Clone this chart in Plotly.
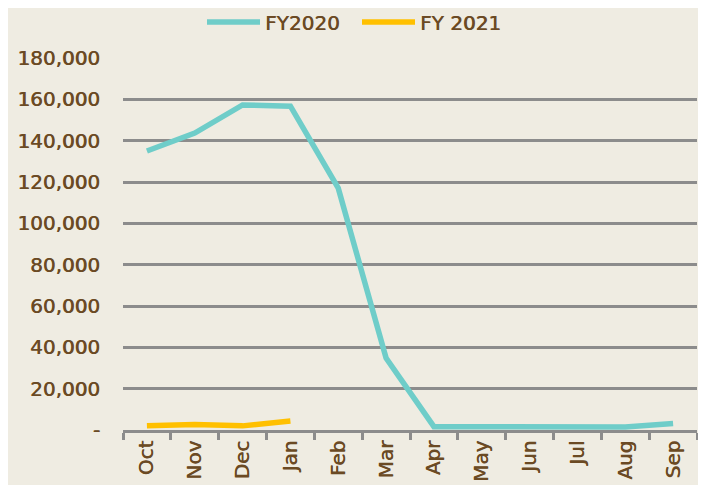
import plotly.graph_objects as go

months = ["Oct", "Nov", "Dec", "Jan", "Feb", "Mar", "Apr", "May", "Jun", "Jul", "Aug", "Sep"]
fy2020 = [135000, 143700, 157300, 156700, 117000, 34800, 1600, 1600, 1500, 1000, 1500, 3200]
fy2021_months = ["Oct", "Nov", "Dec", "Jan"]
fy2021 = [2000, 2700, 2000, 4400]
ytick_vals = [0, 20000, 40000, 60000, 80000, 100000, 120000, 140000, 160000, 180000]
ytick_text = ["-", "20,000", "40,000", "60,000", "80,000", "100,000", "120,000", "140,000", "160,000", "180,000"]

brown = "#6b4a24"
grid = "#8c8c8c"
shadow = "0.6px 0px 0px #6b4a24"
fig = go.Figure()
fig.add_trace(go.Scatter(x=months, y=fy2020, mode="lines", name="FY2020",
                         line=dict(color="#6fcdc9", width=5.5)))
fig.add_trace(go.Scatter(x=fy2021_months, y=fy2021, mode="lines", name="FY 2021",
                         line=dict(color="#ffc000", width=5.5)))

# page body has an 8px default margin; figure is sized/offset to compensate
fig.update_layout(
    width=698, height=477,
    margin=dict(l=115, r=9, t=50, b=55, autoexpand=False),
    paper_bgcolor="#efece2", plot_bgcolor="rgba(0,0,0,0)",
    font=dict(family="DejaVu Sans, sans-serif", color=brown, size=20, shadow=shadow),
    showlegend=True,
    legend=dict(orientation="h", x=0.5, xref="container", xanchor="center",
                y=1.097, yref="paper", yanchor="middle",
                font=dict(size=20, color=brown, shadow=shadow),
                bgcolor="rgba(0,0,0,0)", itemwidth=53, entrywidth=87,
                entrywidthmode="pixels", tracegroupgap=0),
    xaxis=dict(type="category", categoryorder="array", categoryarray=months,
               tickangle=-90, showgrid=False, showline=True, linecolor=grid, linewidth=2.5,
               ticks="outside", ticklen=7, tickcolor=grid, tickwidth=2.5,
               tickson="boundaries", range=[-0.5, 11.5], automargin=False,
               tickfont=dict(size=20, color=brown, shadow=shadow)),
    yaxis=dict(range=[0, 180000], tickvals=ytick_vals, ticktext=ytick_text,
               showgrid=True, gridcolor=grid, gridwidth=2.5, zeroline=False,
               showline=False, ticks="", ticklabelstandoff=22, automargin=False,
               tickfont=dict(size=20, color=brown, shadow=shadow)),
)
fig.write_html("out.html")
